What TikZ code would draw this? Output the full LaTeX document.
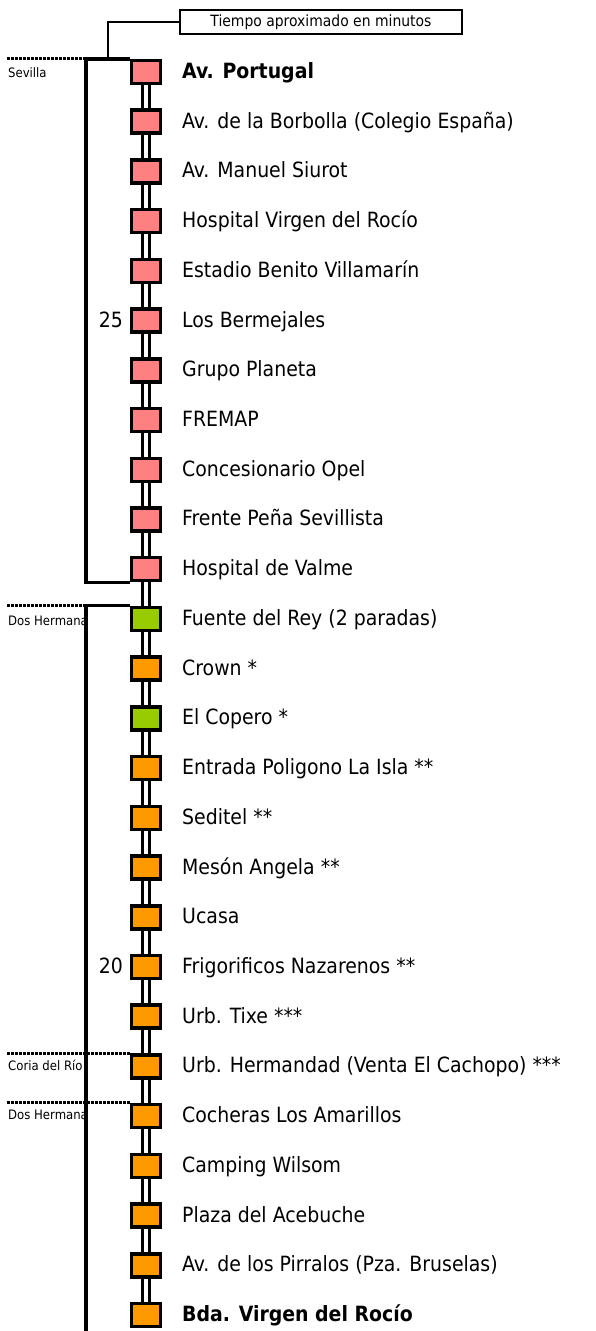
\documentclass[tikz,border=0pt]{standalone}
\usepackage{fontspec}
\setmainfont{DejaVu Sans Condensed}
\usetikzlibrary{backgrounds}
\definecolor{sevpink}{HTML}{FF8080}
\definecolor{dosgreen}{HTML}{99CC00}
\definecolor{dosorange}{HTML}{FF9900}

\begin{document}
\begin{tikzpicture}[x=1pt,y=-1pt,
    stop/.style={draw,line width=3.5pt,minimum width=29pt,minimum height=23pt,inner sep=0pt},
    stoplabel/.style={anchor=base west,inner sep=0pt,font=\fontsize{21}{25}\selectfont},
    rail/.style={double,line width=3.2pt,double distance=3.8pt},
    bracket/.style={line width=3.5pt},
    border/.style={line width=3pt,dash pattern=on 2.5pt off 1.5pt},
    town/.style={anchor=base west,inner sep=0pt,font=\fontsize{13}{15}\selectfont}]
            \useasboundingbox (0,0) rectangle (596,1331);
            \coordinate (w) at (7,0);
            \coordinate (bottom) at (0,1340);
            % stops
            \foreach \i/\c/\t in {0/sevpink/{\textbf{Av. Portugal}},
                1/sevpink/{Av. de la Borbolla (Colegio España)},
                2/sevpink/{Av. Manuel Siurot},
                3/sevpink/{Hospital Virgen del Rocío},
                4/sevpink/{Estadio Benito Villamarín},
                5/sevpink/{Los Bermejales},
                6/sevpink/{Grupo Planeta},
                7/sevpink/{FREMAP},
                8/sevpink/{Concesionario Opel},
                9/sevpink/{Frente Peña Sevillista},
                10/sevpink/{Hospital de Valme},
                11/dosgreen/{Fuente del Rey (2 paradas)},
                12/dosorange/{Crown *},
                13/dosgreen/{El Copero *},
                14/dosorange/{Entrada Poligono La Isla **},
                15/dosorange/{Seditel **},
                16/dosorange/{Mesón Angela **},
                17/dosorange/{Ucasa},
                18/dosorange/{Frigorificos Nazarenos **},
                19/dosorange/{Urb. Tixe ***},
                20/dosorange/{Urb. Hermandad (Venta El Cachopo) ***},
                21/dosorange/{Cocheras Los Amarillos},
                22/dosorange/{Camping Wilsom},
                23/dosorange/{Plaza del Acebuche},
                24/dosorange/{Av. de los Pirralos (Pza. Bruselas)},
                25/dosorange/{\textbf{Bda. Virgen del Rocío}}} {
                \node[stop,fill=\c] (s\i) at (146,{72+49.72*\i}) {};
                \node[stoplabel] (l\i) at ([xshift=36pt,yshift=-6.5pt]s\i.center) {\t};
            }
            \begin{scope}[on background layer]
                \foreach \i [evaluate=\i as \j using int(\i+1)] in {0,...,24}
                    \draw[rail] (s\i.center) -- (s\j.center);
            \end{scope}
            % minutes
            \node[stoplabel,anchor=base east] (m25) at ([xshift=-23pt,yshift=-6.5pt]s5.center) {25};
            \node[stoplabel,anchor=base east] (m20) at ([xshift=-23pt,yshift=-6.5pt]s18.center) {20};
            % brackets
            \draw[bracket] (s0.north west) -- ++(-44,0) coordinate (sevilla) |- (s10.south west);
            \draw[bracket] (s11.north west) -- ++(-44,0) coordinate (dos) -- (dos |- bottom);
            % borders
            \draw[border] (w |- sevilla) -- (sevilla);
            \draw[border] (w |- dos) -- (dos);
            \draw[border] (w |- s20.north west) -- (s20.north west);
            \draw[border] (w |- s21.north west) -- (s21.north west);
            \node[town] (sevlbl) at (8,77) {Sevilla};
            \begin{scope}
                \clip (0,600) rectangle (86,640);
                \node[town] (doslbl) at (8,625) {Dos Hermanas};
            \end{scope}
            \node[town] (corialbl) at ([xshift=1pt,yshift=-17pt]w |- s20.north west) {Coria del Río};
            \begin{scope}
                \clip (0,1100) rectangle (86,1140);
                \node[town] (dos2lbl) at ([xshift=1pt,yshift=-17pt]w |- s21.north west) {Dos Hermanas};
            \end{scope}
            % header
            \node[draw,line width=2.8pt,minimum width=282pt,minimum height=24pt,inner sep=0pt,
                font=\fontsize{15.5}{18}\selectfont] (tiempo) at (321,22) {Tiempo aproximado en minutos};
            \coordinate (hook) at (108,60);
            \draw[line width=1.2pt] (tiempo.west) -| (hook);
        \end{tikzpicture}
\end{document}
